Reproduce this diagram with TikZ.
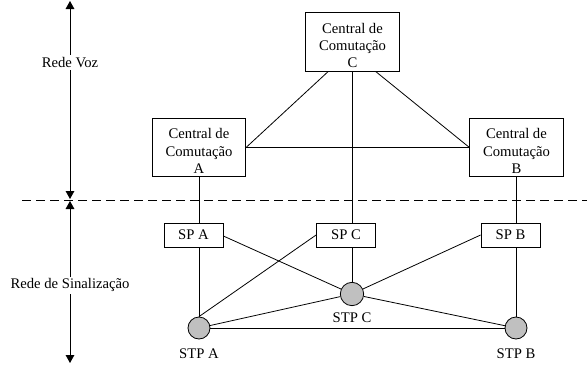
\documentclass[tikz,border=0pt]{standalone}
\usepackage{fontspec}
\setmainfont{Liberation Serif}
\usetikzlibrary{arrows.meta}
\begin{document}
\begin{tikzpicture}[x=0.75pt,y=-0.75pt,
  every node/.style={font=\fontsize{11}{12.8}\selectfont},
  ln/.style={line width=0.6pt,draw=black},
  central/.style={draw,line width=0.6pt,minimum width=70pt,minimum height=44pt,inner sep=0pt},
  ctext/.style={align=center,inner sep=0pt},
  spbox/.style={draw,line width=0.6pt,minimum width=44.25pt,minimum height=18pt,inner sep=0pt},
  stp/.style={circle,draw,line width=0.6pt,fill={rgb,255:red,192;green,192;blue,192},inner sep=0pt},
  lbl/.style={inner sep=1pt},
  dim/.style={line width=0.6pt,{Triangle[length=6pt,width=6.5pt]}-{Triangle[length=6pt,width=6.5pt]}}]
\useasboundingbox (0,0) rectangle (587,365);
% central offices
\node[central] (C) at (352.5,42) {};
\node[central] (A) at (199,147.5) {};
\node[central] (B) at (516.5,147.5) {};
\node[ctext] (Ct) at ([yshift=-2.6pt]C.center) {Central de\\Comutação\\C};
\node[ctext] (At) at ([yshift=-2.6pt]A.center) {Central de\\Comutação\\A};
\node[ctext] (Bt) at ([yshift=-2.6pt]B.center) {Central de\\Comutação\\B};
% signalling points
\node[spbox] (SPA) at (193.5,235) {SP A};
\node[spbox] (SPC) at (346,235) {SP C};
\node[spbox] (SPB) at (510.5,235) {SP B};
% STPs
\node[stp,minimum size=17.5pt] (STPC) at (352,294) {};
\node[stp,minimum size=16.5pt] (STPA) at (199,328) {};
\node[stp,minimum size=16.5pt] (STPB) at (516,328) {};
\node[lbl] (lC) at (352,318) {STP C};
\node[lbl] (lA) at (199,354) {STP A};
\node[lbl] (lB) at (516,354) {STP B};
% voice network links
\draw[ln] (A.east) -- (B.west);
\draw[ln] ([xshift=-18.4pt]C.south) -- (A.east);
\draw[ln] ([xshift=17.6pt]C.south) -- (B.west);
\draw[ln] ([xshift=-0.4pt]C.south) -- ([xshift=-0.4pt]C.south |- SPC.north);
\draw[ln] (A.south) -- (A.south |- SPA.north);
\draw[ln] (B.south) -- (B.south |- SPB.north);
% signalling links
\draw[ln] (STPC.north |- SPC.south) -- (STPC.north);
\draw[ln] (STPA.north |- SPA.south) -- (STPA.north);
\draw[ln] (STPB.north |- SPB.south) -- (STPB.north);
\draw[ln] ([yshift=-0.75pt]SPA.east) -- (STPC);
\draw[ln] (SPC.west) -- (STPA.north);
\draw[ln] (SPB.west) -- (STPC);
\draw[ln] (STPA) -- (STPC);
\draw[ln] (STPC) -- (STPB);
\draw[ln] (STPA) -- (STPB);
% divider
\coordinate (d1) at (22,200);
\coordinate (d2) at (587,200);
\draw[line width=0.6pt,dash pattern=on 6.75pt off 3.75pt] (d1) -- (d2);
% left dimension arrows
\coordinate (t1) at (70,1);
\coordinate (t2) at (70,199);
\coordinate (b1) at (70,201);
\coordinate (b2) at (70,363);
\draw[dim] (t1) -- (t2) node[pos=0.31,fill=white,inner sep=1.5pt] (rv) {Rede Voz};
\draw[dim] (b1) -- (b2) node[pos=0.52,fill=white,inner sep=1.5pt] (rs) {Rede de Sinalização};
\end{tikzpicture}
\end{document}
